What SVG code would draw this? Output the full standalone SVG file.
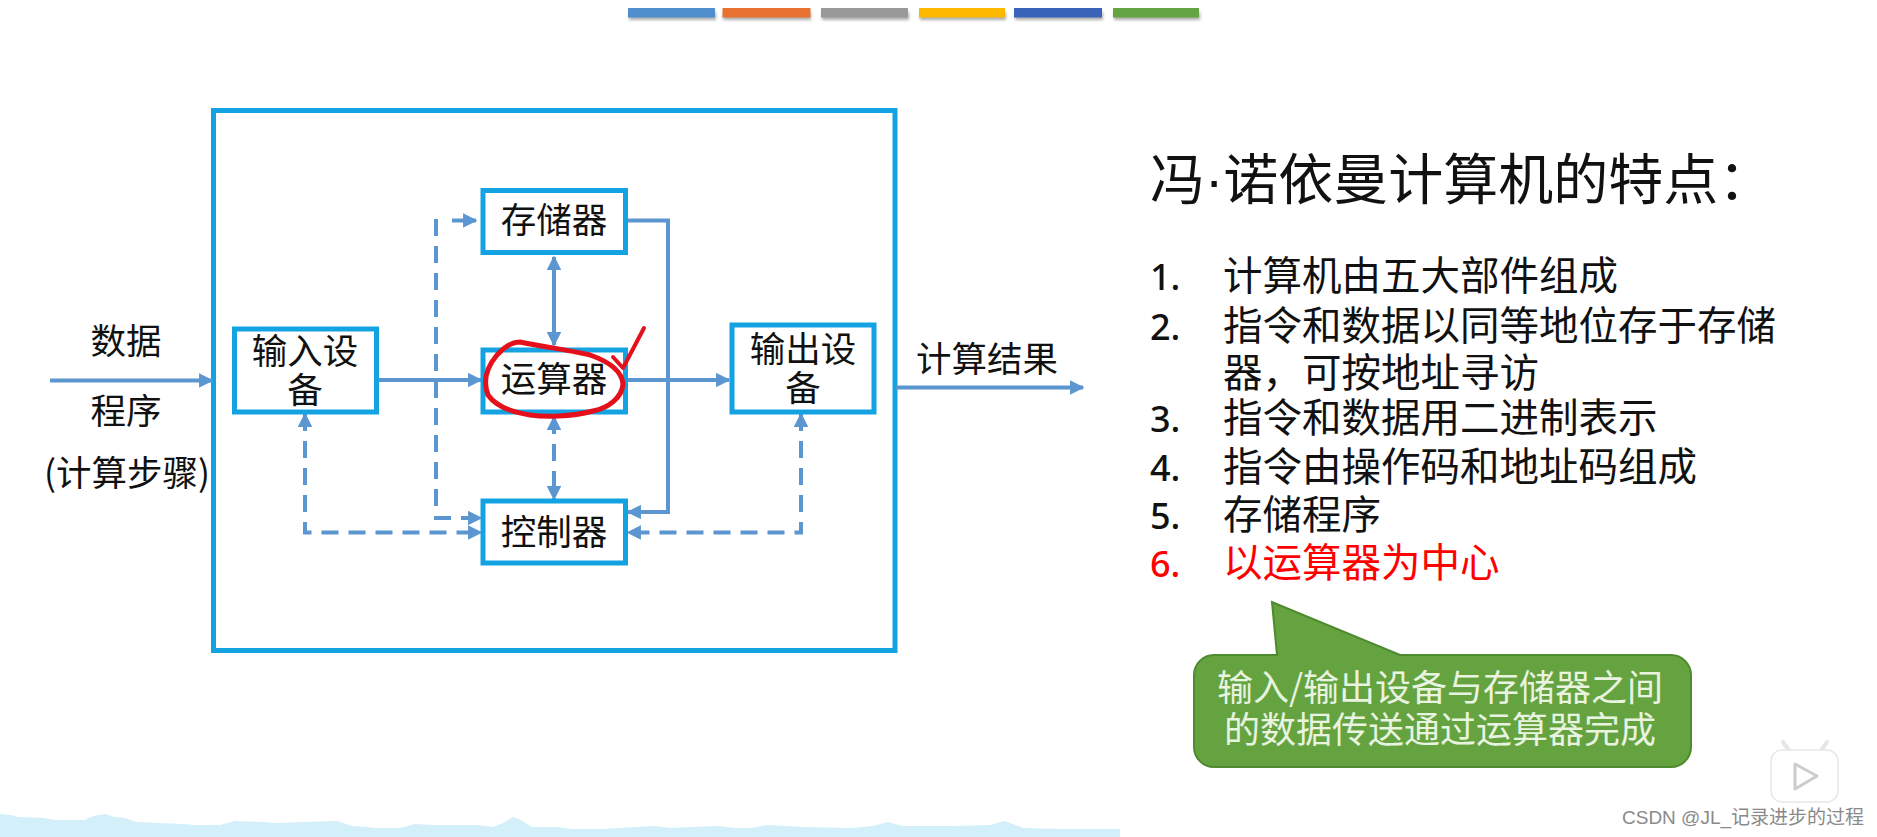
<svg xmlns="http://www.w3.org/2000/svg" width="1877" height="837" viewBox="0 0 1877 837">
<style>
text{font-family:"Noto Sans CJK SC","Noto Sans",sans-serif;fill:#111}
.n{fill:#fff;stroke:#13a3e3;stroke-width:5}
.l{font-size:35.5px;text-anchor:middle}
.li{font-size:39.5px}
.num{font-family:"Noto Sans",sans-serif;font-size:36px;font-weight:500}
.c{fill:none;stroke:#5b96d0;stroke-width:4}
.d{stroke-dasharray:17 10}
.ar{fill:#5b96d0}
.cb{font-size:36px;text-anchor:middle;fill:#e8f3e0}
</style>
<defs>
<filter id="sh" x="-10%" y="-50%" width="120%" height="220%"><feGaussianBlur stdDeviation="1.5"/></filter>
<marker id="a" viewBox="0 0 10 10" refX="9" refY="5" markerWidth="3.600" markerHeight="3.600" orient="auto-start-reverse" markerUnits="strokeWidth"><path d="M0 0L10 5L0 10Z" class="ar"/></marker>
</defs>
<rect width="1877" height="837" fill="#fff"/>
<g id="bars">
<g fill="#777" opacity=".6" filter="url(#sh)"><rect x="629" y="12" width="87" height="8"/><rect x="723" y="12" width="88" height="8"/><rect x="822" y="12" width="87" height="8"/><rect x="920" y="12" width="86" height="8"/><rect x="1015" y="12" width="88" height="8"/><rect x="1114" y="12" width="86" height="8"/></g>
<rect x="628" y="8" width="87" height="9.500" fill="#4f8fcd"/>
<rect x="722.500" y="8" width="88" height="9.500" fill="#e8722f"/>
<rect x="821" y="8" width="87" height="9.500" fill="#999"/>
<rect x="919" y="8" width="86" height="9.500" fill="#fdb900"/>
<rect x="1014" y="8" width="88" height="9.500" fill="#3a64ba"/>
<rect x="1113" y="8" width="86" height="9.500" fill="#65a442"/>
</g>
<path id="hills" fill="#d3effa" d="M0 837L0 814L11 815L18 817L44 818L55 820L84 820Q95 815 99 815L106 814L114 817L125 818L136 822L183 824L194 825L220 825L235 821L264 822L275 823L337 821L352 826L367 827L374 828L400 828L415 824L433 825L477 825L493 827L503 823L513 817L521 820L532 827L558 827L572 829L602 829L653 826L671 828L690 827L719 826L734 828L752 828L767 825L803 827L851 828L873 826L888 822L902 826L954 826L990 825L1005 821L1023 828L1064 829L1120 829L1120 837Z"/>
<g id="outer"><rect x="213.500" y="110.500" width="681.500" height="540" fill="none" stroke="#13a3e3" stroke-width="5"/></g>
<g id="connectors">
<path class="c" marker-end="url(#a)" d="M50 380.500H212"/>
<path class="c" marker-end="url(#a)" d="M378 380H481"/>
<path class="c" marker-end="url(#a)" d="M626 380H729"/>
<path class="c" marker-end="url(#a)" d="M896 387.500H1083"/>
<path class="c" marker-end="url(#a)" d="M626 220.500H668V512H628"/>
<path class="c" marker-start="url(#a)" marker-end="url(#a)" d="M554 257V345"/>
<path class="c d" marker-start="url(#a)" marker-end="url(#a)" d="M554 417V499"/>
<path class="c d" marker-end="url(#a)" d="M436 219V518H481"/>
<path class="c" marker-end="url(#a)" d="M452 220.500H476"/>
<path class="c d" marker-start="url(#a)" marker-end="url(#a)" d="M305 414V532.500H481"/>
<path class="c d" marker-start="url(#a)" marker-end="url(#a)" d="M801 414V532.500H628"/>
</g>
<g id="mem"><rect class="n" x="483" y="190.500" width="142.500" height="62"/><text class="l" x="554" y="233">存储器</text></g>
<g id="alu"><rect class="n" x="483" y="350" width="142.500" height="62"/><text class="l" x="554" y="392">运算器</text></g>
<g id="ctrl"><rect class="n" x="483" y="501" width="142.500" height="62"/><text class="l" x="554" y="545">控制器</text></g>
<g id="input"><rect class="n" x="234.500" y="329" width="142" height="83"/><text class="l" y="364"><tspan x="305">输入设</tspan><tspan x="305" y="403">备</tspan></text></g>
<g id="output"><rect class="n" x="732" y="325" width="142" height="87"/><text class="l" y="362"><tspan x="803">输出设</tspan><tspan x="803" y="401">备</tspan></text></g>
<g id="labels">
<text class="l" x="126" y="354">数据</text>
<text class="l" x="126" y="424">程序</text>
<text class="l" x="127" y="486">(计算步骤)</text>
<text class="l" x="987" y="372">计算结果</text>
</g>
<g id="mark" fill="none" stroke="#e4101c" stroke-linecap="round" stroke-linejoin="round">
<path stroke-width="5" d="M520 342C550 348 575 351 590 355C610 362 622 372 623 384C622 398 608 408 593 411C570 417 545 417 530 415C510 412 495 405 488 395C483 382 486 368 497 355C505 346 513 342 520 342Z"/>
<path stroke-width="4" d="M613 357L623 368L644 328"/>
</g>
<g id="features">
<text x="1150" y="199" style="font-size:55px">冯<tspan style="font-family:'Liberation Sans',sans-serif">·</tspan>诺依曼计算机的特点：</text>
<text class="num" x="1150" y="290">1.</text><text class="li" x="1223" y="290">计算机由五大部件组成</text>
<text class="num" x="1150" y="340">2.</text><text class="li" x="1223" y="340"><tspan>指令和数据以同等地位存于存储</tspan><tspan x="1223" y="387">器，可按地址寻访</tspan></text>
<text class="num" x="1150" y="432">3.</text><text class="li" x="1223" y="432">指令和数据用二进制表示</text>
<text class="num" x="1150" y="481">4.</text><text class="li" x="1223" y="481">指令由操作码和地址码组成</text>
<text class="num" x="1150" y="529">5.</text><text class="li" x="1223" y="529">存储程序</text>
<text class="num" x="1150" y="577" style="fill:#f00">6.</text><text class="li" x="1223" y="577" style="fill:#f00">以运算器为中心</text>
</g>
<g id="callout">
<path fill="#64a33f" stroke="#4e8a2e" stroke-width="2" d="M1214 655H1277L1272 602L1400 655H1671A20 20 0 0 1 1691 675V747A20 20 0 0 1 1671 767H1214A20 20 0 0 1 1194 747V675A20 20 0 0 1 1214 655Z"/>
<text class="cb" y="701"><tspan x="1440">输入/输出设备与存储器之间</tspan><tspan x="1440" y="743">的数据传送通过运算器完成</tspan></text>
</g>
<g id="watermark">
<path d="M1790 752L1783 742M1820 752L1827 742" stroke="#e6e6e6" stroke-width="4" fill="none" stroke-linecap="round"/>
<rect x="1771" y="750" width="67" height="52" rx="11" fill="#fff" stroke="#e8e8e8" stroke-width="1.500"/>
<path d="M1795 764L1817 776L1795 789Z" fill="#fff" stroke="#ccc" stroke-width="3" stroke-linejoin="round"/>
<text x="1622" y="824" style="font-size:19px;fill:#8a8a8a;font-family:'Liberation Sans','Noto Sans CJK SC',sans-serif">CSDN @JL_记录进步的过程</text>
</g>
</svg>
